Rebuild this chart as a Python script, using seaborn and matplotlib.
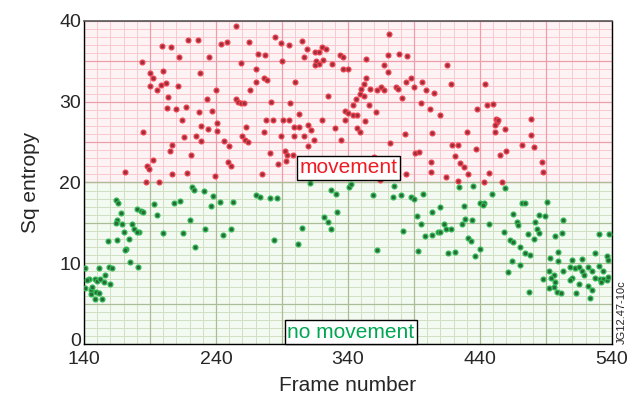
import numpy as np
import pandas as pd
import matplotlib
matplotlib.use("Agg")
import matplotlib.pyplot as plt
import matplotlib.transforms as mtransforms
import seaborn as sns

# ---- data ----
red_frame = [255, 219, 226, 199, 206, 244, 248, 265, 272, 212, 235, 184, 259, 270, 200, 228, 190, 192, 190, 198,
             202, 211, 195, 240, 266, 270, 204, 233, 255, 257, 259, 261, 203, 210, 217, 227, 237, 214, 241, 229,
             234, 241, 263, 185, 216, 225, 229, 246, 250, 260, 262, 264, 207, 205, 221, 192, 188, 189, 249, 251,
             171, 207, 218, 239, 197, 187,
             371, 285, 289, 295, 305, 277, 290, 307, 309, 315, 318, 320, 323, 316, 318, 321, 315, 328, 334, 336,
             336, 340, 354, 370, 379, 385, 367, 370, 276, 279, 300, 354, 352, 350, 349, 357, 362, 365, 367, 376,
             378, 384, 388, 396, 390, 399, 405, 325, 352, 381, 282, 296, 346, 344, 356, 395, 402, 338, 340, 344,
             347, 361, 303, 278, 283, 291, 295, 320, 338, 353, 310, 312, 299, 303, 330, 347, 349, 276, 289, 299,
             307, 314, 335, 372, 383, 404, 310, 281, 292, 294, 298, 391, 394, 360, 403, 287, 293, 275, 384, 403,
             364,
             415, 418, 444, 438, 445, 450, 410, 452, 453, 451, 454, 459, 451, 479, 479, 430, 419, 423, 472, 481,
             437, 460, 455, 421, 425, 428, 487, 488, 431, 447, 414, 423, 443, 457]
red_value = [39.4, 37.7, 37.7, 36.9, 36.8, 37.1, 37.4, 37.4, 35.9, 35.6, 35.6, 34.9, 34.8, 34.0, 33.8, 33.6, 33.5, 32.9, 31.9, 32.1,
             32.3, 32.0, 31.4, 31.5, 31.4, 32.4, 30.6, 30.4, 30.4, 30.0, 29.8, 29.9, 29.2, 29.1, 29.3, 28.7, 28.9, 27.8, 27.4, 27.0,
             26.6, 26.4, 26.9, 26.3, 25.6, 25.8, 25.1, 25.2, 24.5, 25.8, 25.3, 25.0, 24.6, 23.9, 23.4, 22.8, 22.0, 21.7, 22.5, 22.0,
             21.3, 21.1, 21.2, 20.8, 20.1, 20.1,
             38.4, 38.0, 37.3, 37.0, 37.5, 35.8, 35.1, 35.6, 36.5, 36.2, 36.2, 36.8, 36.5, 35.0, 34.7, 35.2, 34.6, 34.7, 35.8, 35.6,
             34.0, 34.1, 35.3, 35.8, 35.9, 35.7, 34.6, 33.7, 32.9, 32.7, 32.5, 33.0, 32.2, 31.6, 31.0, 31.6, 31.4, 31.8, 31.4, 31.8,
             31.6, 32.5, 33.0, 32.5, 31.8, 31.4, 31.1, 30.7, 30.7, 30.5, 30.0, 29.9, 30.3, 29.6, 29.6, 29.8, 29.1, 28.9, 28.6, 28.4,
             28.4, 28.7, 28.5, 27.7, 27.8, 27.7, 27.7, 27.8, 27.8, 27.6, 27.1, 26.5, 26.9, 26.9, 26.7, 26.8, 26.3, 26.2, 25.8, 25.8,
             25.8, 25.3, 25.3, 24.9, 26.0, 26.1, 24.5, 23.6, 23.9, 23.4, 23.4, 23.6, 23.8, 23.2, 22.5, 22.3, 22.7, 21.1, 21.1, 21.3,
             20.3,
             34.6, 32.2, 32.2, 29.1, 29.6, 29.7, 28.4, 27.9, 27.5, 27.1, 27.7, 26.6, 26.2, 27.9, 25.9, 26.2, 24.6, 24.6, 24.6, 24.4,
             24.1, 23.9, 23.4, 23.3, 22.4, 21.9, 22.6, 21.3, 21.0, 21.2, 20.7, 20.2, 20.1, 20.1]

green_frame = [222, 223, 231, 238, 243, 236, 253, 270, 164, 166, 193, 208, 213, 180, 183, 185, 168, 195, 165, 164,
               169, 220, 176, 178, 182, 180, 170, 200, 215, 232, 251, 245, 158, 165, 174, 172, 171, 224, 175, 181,
               151, 159, 161, 141, 156, 144, 148, 150, 155, 160, 141, 145, 149, 151, 148, 154, 145, 142, 146, 152,
               311, 341, 342, 375, 273, 281, 286, 327, 331, 359, 374, 380, 388, 390, 397, 332, 404, 322, 325, 327,
               392, 395, 305, 382, 398, 404, 284, 302, 362, 393,
               424, 435, 459, 449, 428, 440, 443, 442, 472, 474, 491, 410, 465, 485, 489, 429, 434, 426, 447, 468,
               469, 482, 483, 485, 503, 413, 414, 408, 410, 418, 458, 476, 497, 502, 530, 538, 431, 433, 463, 465,
               481, 470, 440, 474, 478, 416, 421, 436, 499, 527, 493, 510, 517, 536, 537, 464, 470, 499, 503, 508,
               512, 515, 522, 525, 530, 461, 492, 496, 517, 519, 510, 508, 527, 531, 533, 536, 537, 488, 494, 497,
               496, 492, 515, 522, 525, 498, 501, 513, 523, 477, 533, 532]
green_value = [19.5, 19.1, 19.0, 18.3, 17.6, 17.1, 17.6, 18.4, 17.8, 17.4, 17.3, 17.5, 17.7, 16.7, 16.5, 16.3, 16.2, 16.0, 15.4, 15.0,
               14.9, 15.3, 14.8, 14.2, 13.9, 13.9, 13.9, 13.8, 13.7, 14.2, 14.2, 13.5, 12.7, 12.9, 13.0, 11.8, 11.6, 12.0, 10.2, 9.5,
               9.4, 9.5, 9.35, 9.35, 8.6, 8.0, 8.0, 7.8, 7.7, 7.4, 6.9, 6.7, 6.5, 6.3, 5.55, 5.6, 6.25, 7.9, 7.0, 8.0,
               19.9, 19.4, 19.8, 19.6, 18.2, 18.1, 18.1, 19.1, 18.6, 18.4, 18.2, 18.4, 18.2, 17.9, 18.6, 16.4, 16.4, 15.7, 15.1, 14.3,
               15.8, 14.9, 14.4, 14.0, 13.4, 13.5, 12.9, 12.4, 11.6, 11.5,
               19.4, 19.6, 19.3, 18.6, 17.1, 17.4, 17.5, 17.2, 17.5, 17.5, 17.6, 17.0, 16.1, 16.0, 15.8, 15.5, 15.4, 14.8, 14.9, 15.1,
               14.7, 15.1, 14.2, 13.8, 15.3, 14.9, 14.3, 13.9, 13.9, 14.3, 13.9, 13.6, 13.4, 13.8, 13.6, 13.6, 13.1, 12.7, 12.9, 12.6,
               13.0, 12.0, 11.8, 11.3, 11.0, 11.3, 11.4, 10.9, 11.4, 11.3, 10.7, 10.4, 10.5, 10.9, 10.4, 10.3, 9.8, 10.3, 9.1, 9.5,
               9.35, 9.5, 9.5, 9.1, 9.6, 8.9, 9.1, 8.6, 9.0, 8.5, 8.2, 7.9, 8.2, 8.0, 8.1, 7.9, 8.3, 8.0, 8.2, 7.7,
               7.1, 6.9, 7.4, 7.2, 6.7, 6.5, 6.3, 6.3, 5.75, 6.5, 9.0, 7.7]

x_ticks = [140, 240, 340, 440, 540]
y_ticks = [0, 10, 20, 30, 40]
x_label = "Frame number"
y_label = "Sq entropy"
label_move = "movement"
label_still = "no movement"
stamp = "JG12.47-10c"

df = pd.DataFrame({
    "frame": red_frame + green_frame,
    "entropy": red_value + green_value,
    "state": ["movement"] * len(red_frame) + ["no movement"] * len(green_frame),
})

sns.set_style("white")
plt.rcParams["font.family"] = ["Liberation Sans", "DejaVu Sans"]

fig = plt.figure(figsize=(6.39, 3.97), dpi=100)
ax = fig.add_axes([84 / 639, 53 / 397, 528 / 639, 323 / 397])

# background bands and grids
ax.axhspan(20, 40, color="#fdf3f5", zorder=0, lw=0)
ax.axhspan(0, 20, color="#f3faf1", zorder=0, lw=0)
vx_minor = np.arange(140, 541, 10)
vx_major = np.arange(140, 541, 50)
ax.vlines(vx_minor, 20, 40, colors="#f8c9cf", lw=0.7, zorder=0.5)
ax.vlines(vx_major, 20, 40, colors="#ec9eaa", lw=0.9, zorder=0.6)
ax.hlines(np.arange(20, 40.01, 1), 140, 540, colors="#f8c9cf", lw=0.7, zorder=0.5)
ax.hlines(np.arange(20, 40.01, 5), 140, 540, colors="#ec9eaa", lw=0.9, zorder=0.6)
ax.vlines(vx_minor, 0, 20, colors="#d0e0c2", lw=0.7, zorder=0.5)
ax.vlines(vx_major, 0, 20, colors="#aabd96", lw=0.9, zorder=0.6)
ax.hlines(np.arange(0, 20.01, 1), 140, 540, colors="#d0e0c2", lw=0.7, zorder=0.5)
ax.hlines(np.arange(0, 20.01, 5), 140, 540, colors="#aabd96", lw=0.9, zorder=0.6)

sub_r = df[df.state == "movement"]
sub_g = df[df.state == "no movement"]
sns.scatterplot(data=sub_r, x="frame", y="entropy", ax=ax, color="#9c2f3c",
                edgecolor="#f0404e", linewidth=0.9, s=12, legend=False, zorder=3)
sns.scatterplot(data=sub_g, x="frame", y="entropy", ax=ax, color="#2c663b",
                edgecolor="#2cb850", linewidth=0.9, s=12, legend=False, zorder=3)

ax.set_xlim(140, 540)
ax.set_ylim(0, 40)
ax.set_xticks(x_ticks)
ax.set_yticks(y_ticks)
ax.tick_params(axis="both", length=0, labelsize=14)
ax.tick_params(axis="x", pad=5)
ax.tick_params(axis="y", pad=2)
ax.set_xlabel(x_label, fontsize=15, labelpad=6)
ax.set_ylabel(y_label, fontsize=15, labelpad=14)
for side in ["left", "bottom", "right"]:
    ax.spines[side].set_color("black")
    ax.spines[side].set_linewidth(1.0)
    ax.spines[side].set_visible(True)
ax.spines["top"].set_color("#555555")
ax.spines["top"].set_linewidth(1.2)
ax.spines["top"].set_visible(True)

# nudge the "0" label up a little, as in the reference
fig.canvas.draw()
ylabels = ax.get_yticklabels()
ylabels[0].set_transform(ylabels[0].get_transform() + mtransforms.ScaledTranslation(0, 5 / 100, fig.dpi_scale_trans))

ax.text(340.5, 21.8, label_move, color="#ee1c24", fontsize=15, ha="center", va="center", zorder=5,
        bbox=dict(boxstyle="square,pad=0.12", fc="white", ec="black", lw=1.0))
ax.text(342, 1.45, label_still, color="#00a651", fontsize=15, ha="center", va="center", zorder=5,
        bbox=dict(boxstyle="square,pad=0.12", fc="white", ec="black", lw=1.0))

fig.text(622 / 639, 53 / 397, stamp, rotation=90, fontsize=8, ha="center", va="bottom")

fig.savefig("out.png", dpi=100)
